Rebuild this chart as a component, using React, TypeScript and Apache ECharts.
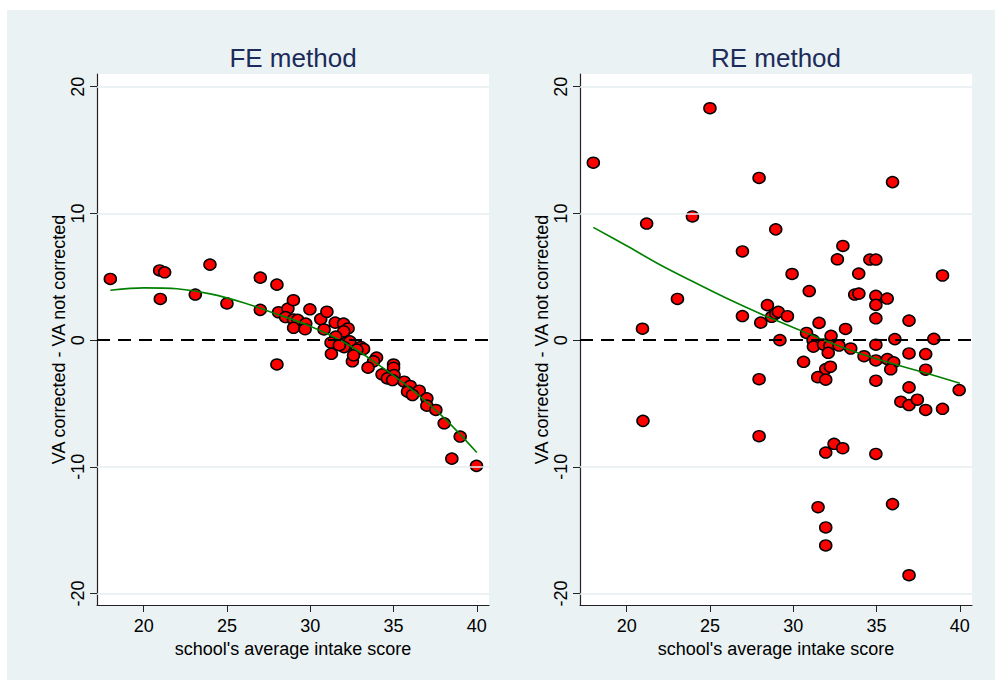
import React, { useEffect, useRef } from "react";
import * as echarts from "echarts";

const panelTitles = ["FE method", "RE method"];
const yTitle = "VA corrected - VA not corrected";
const xTitle = "school's average intake score";
const xTicks = [20, 25, 30, 35, 40];
const yTicks = [-20, -10, 0, 10, 20];
const yGridValues = [-20, -10, 10, 20];

const feX = [18, 20.96, 21.26, 21.0, 23.98, 23.1, 25.0, 27.0, 28.0, 27.0, 28.0, 28.1, 28.66, 28.99, 28.52, 29.0, 29.25, 29.0, 29.73, 29.69, 29.98, 30.63, 31.0, 30.83, 31.5, 32.0, 32.27, 32.01, 31.53, 31.25, 32.15, 32.38, 32.03, 31.27, 33.03, 33.2, 32.8, 32.53, 33.98, 33.8, 33.47, 34.31, 35.0, 35.0, 35.03, 34.63, 34.94, 35.64, 36.0, 35.84, 36.54, 36.14, 37.0, 37.0, 37.54, 38.04, 39.0, 38.5, 39.98, 32.6, 31.75];
const feY = [4.83, 5.5, 5.35, 3.25, 5.96, 3.6, 2.9, 4.93, 4.38, 2.39, -1.92, 2.2, 2.49, 3.15, 1.82, 1.63, 1.6, 0.97, 1.31, 0.86, 2.43, 1.66, 2.24, 0.84, 1.38, 1.31, 0.92, 0.69, 0.28, -0.2, -0.21, -0.1, -0.55, -1.08, -0.54, -0.7, -0.75, -1.67, -1.38, -1.67, -2.17, -2.7, -1.92, -2.18, -2.76, -3.02, -3.15, -3.28, -3.62, -4.07, -3.99, -4.33, -4.59, -5.17, -5.51, -6.56, -7.61, -9.35, -9.92, -1.2, -0.4];

const reX = [18, 25, 27.95, 21.2, 23.95, 28.95, 26.95, 23.05, 20.95, 26.95, 28.05, 28.45, 28.7, 28.95, 29.1, 29.65, 29.2, 27.95, 20.98, 27.95, 29.93, 30.96, 31.55, 30.8, 32.27, 33.14, 32.98, 32.65, 33.93, 34.6, 34.96, 33.69, 33.94, 34.96, 35.64, 34.96, 34.96, 36.95, 38.96, 35.96, 34.96, 36.1, 38.44, 31.19, 31.21, 31.82, 32.2, 32.1, 32.75, 33.45, 34.25, 34.96, 35.65, 36.03, 35.85, 36.95, 37.95, 37.95, 30.62, 31.95, 32.23, 31.47, 31.95, 34.96, 36.95, 39.96, 36.46, 36.95, 37.45, 37.95, 38.96, 32.45, 32.97, 31.95, 34.96, 31.49, 35.96, 31.95, 31.95, 36.95];
const reY = [14.0, 18.3, 12.8, 9.2, 9.76, 8.74, 7.0, 3.25, 0.9, 1.9, 1.38, 2.76, 1.84, 2.1, 2.23, 1.89, 0.0, -3.08, -6.37, -7.58, 5.22, 3.87, 1.36, 0.57, 0.34, 0.88, 7.43, 6.38, 5.25, 6.36, 6.36, 3.6, 3.67, 3.49, 3.28, 2.78, 1.72, 1.54, 5.1, 12.47, -0.36, 0.08, 0.1, 0.0, -0.51, -0.35, -0.45, -1.0, -0.43, -0.66, -1.27, -1.6, -1.5, -1.75, -2.3, -1.05, -1.1, -2.33, -1.71, -2.28, -2.1, -2.92, -3.12, -3.2, -3.73, -3.94, -4.86, -5.12, -4.7, -5.51, -5.42, -8.18, -8.53, -8.87, -8.98, -13.18, -12.94, -14.78, -16.2, -18.55];

const fitX = [18, 20, 22, 24, 26, 28, 30, 32, 34, 36, 38, 40];
const feFitY = [3.94, 4.12, 4.05, 3.65, 2.95, 2.05, 1.1, -0.15, -1.85, -3.8, -6.1, -8.87];
const reFitY = [8.9, 7.45, 5.95, 4.6, 3.3, 2.1, 1.0, -0.08, -1.05, -1.87, -2.62, -3.4];

const FONT = "'Liberation Sans', Arial, Helvetica, sans-serif";
const gridLefts = [97, 580];
const gridWidth = 392;
const gridTop = 74;
const gridHeight = 531;

function zip(xs: number[], ys: number[]) {
  return xs.map((x, i) => [x, ys[i]]);
}

export default function App() {
  const ref = useRef<HTMLDivElement>(null);

  useEffect(() => {
    if (!ref.current) return;
    const chart = echarts.init(ref.current, undefined, { renderer: "svg" });
    const panels = [
      { pts: zip(feX, feY), fit: zip(fitX, feFitY) },
      { pts: zip(reX, reY), fit: zip(fitX, reFitY) },
    ];

    const grids = gridLefts.map((left) => ({
      left,
      top: gridTop,
      width: gridWidth,
      height: gridHeight,
      show: true,
      backgroundColor: "#ffffff",
      borderWidth: 0,
    }));

    const xAxes = gridLefts.map((_, i) => ({
      type: "value",
      gridIndex: i,
      min: 17.2,
      max: 40.73,
      name: xTitle,
      nameLocation: "middle",
      nameGap: 29,
      nameTextStyle: { fontFamily: FONT, fontSize: 18, color: "#000" },
      axisLine: { show: true, onZero: false, lineStyle: { color: "#222", width: 1.2 } },
      axisTick: { show: true, length: 7, customValues: xTicks, lineStyle: { color: "#222", width: 1 } },
      axisLabel: { customValues: xTicks, margin: 12, fontFamily: FONT, fontSize: 18, color: "#000" },
      splitLine: { show: false },
    }));

    const yAxes = gridLefts.map((_, i) => ({
      type: "value",
      gridIndex: i,
      min: -20.9,
      max: 21.0,
      name: yTitle,
      nameLocation: "middle",
      nameRotate: 90,
      nameGap: 27,
      nameTextStyle: { fontFamily: FONT, fontSize: 18, color: "#000" },
      axisLine: { show: true, onZero: false, lineStyle: { color: "#222", width: 1.2 } },
      axisTick: { show: true, length: 7, customValues: yTicks, lineStyle: { color: "#222", width: 1 } },
      axisLabel: { customValues: yTicks, rotate: 90, margin: 10, fontFamily: FONT, fontSize: 18, color: "#000" },
      splitLine: { show: false },
    }));

    const series: any[] = [];
    panels.forEach((p, i) => {
      series.push({
        type: "line",
        xAxisIndex: i,
        yAxisIndex: i,
        data: [],
        z: 1,
        silent: true,
        markLine: {
          silent: true,
          symbol: ["none", "none"],
          label: { show: false },
          data: [
            ...yGridValues.map((v) => ({ yAxis: v, lineStyle: { color: "#e6eef1", width: 1.5, type: "solid" } })),
            { yAxis: 0, lineStyle: { color: "#000", width: 2, type: [13, 8] } },
          ],
        },
      });
      series.push({
        type: "scatter",
        xAxisIndex: i,
        yAxisIndex: i,
        data: p.pts,
        symbol: "circle",
        symbolSize: [12, 11],
        z: 3,
        itemStyle: { color: "#ff0000", borderColor: "#000", borderWidth: 1.5, opacity: 1 },
      });
      series.push({
        type: "line",
        xAxisIndex: i,
        yAxisIndex: i,
        data: p.fit,
        smooth: 0.3,
        symbol: "none",
        z: 4,
        lineStyle: { color: "#008000", width: 1.6 },
      });
    });

    chart.setOption({
      animation: false,
      backgroundColor: "transparent",
      grid: grids,
      xAxis: xAxes,
      yAxis: yAxes,
      series,
      graphic: panelTitles.map((t, i) => ({
        type: "text",
        x: gridLefts[i] + gridWidth / 2,
        y: 58,
        style: {
          text: t,
          fontFamily: FONT,
          fontSize: 26,
          fill: "#1c2b5a",
          align: "center",
          verticalAlign: "middle",
        },
      })),
    });

    return () => chart.dispose();
  }, []);

  return (
    <div style={{ position: "fixed", left: 0, top: 0, width: 995, height: 680, background: "#ffffff" }}>
      <div style={{ position: "absolute", left: 7, top: 10, width: 988, height: 670, background: "#eaf2f3" }} />
      <div ref={ref} style={{ position: "absolute", left: 0, top: 0, width: 995, height: 680 }} />
    </div>
  );
}
